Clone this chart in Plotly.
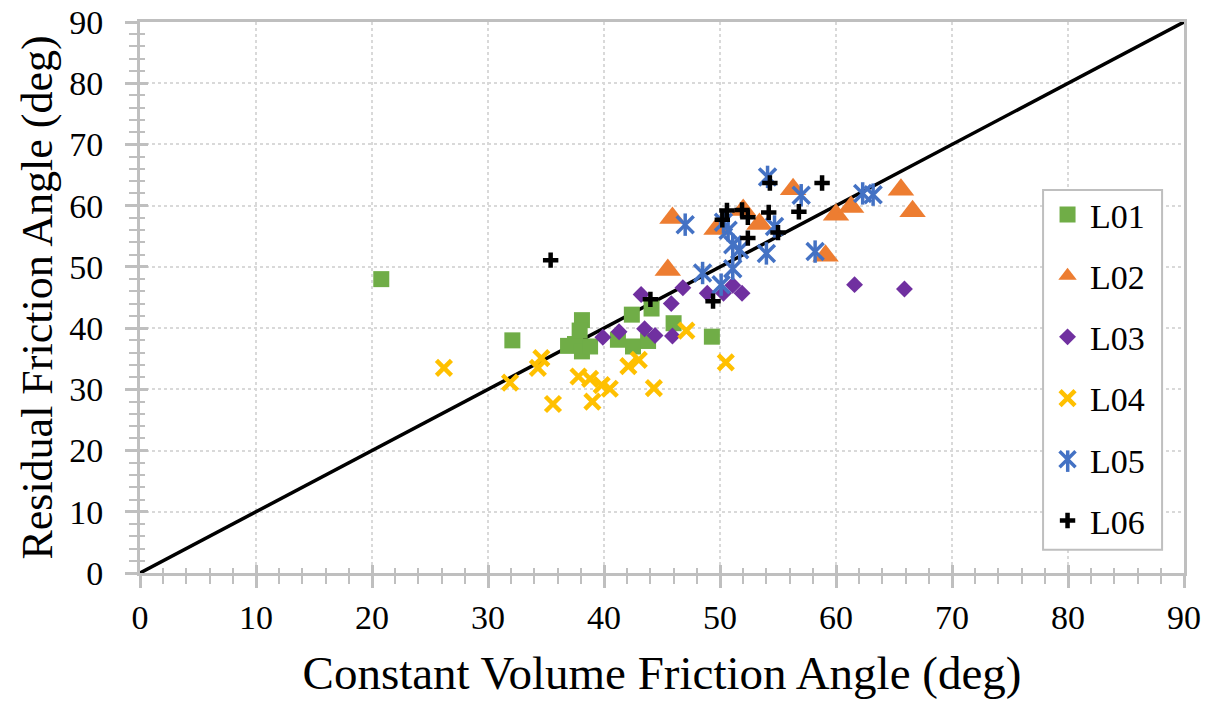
import plotly.graph_objects as go

# Constant volume (x) vs residual (y) friction angles, degrees
l01_cv = [20.8, 32.1, 36.9, 37.5, 38.1, 37.9, 38.1, 38.8, 41.2, 42.4, 42.5, 44.1, 43.8, 46.0, 49.3]
l01_res = [48.0, 38.0, 37.1, 37.4, 41.3, 39.6, 36.2, 37.0, 38.1, 42.2, 37.0, 43.2, 37.9, 40.8, 38.6]

l02_cv = [45.9, 45.5, 49.7, 52.0, 53.4, 56.3, 59.1, 60.0, 61.3, 65.6, 66.6]
l02_res = [58.0, 49.5, 56.2, 59.3, 57.0, 62.7, 51.8, 58.5, 59.8, 62.6, 59.1]

l03_cv = [39.9, 41.3, 43.2, 43.5, 44.4, 45.8, 45.9, 46.8, 48.9, 50.3, 51.1, 51.9, 61.6, 65.9]
l03_res = [38.5, 39.4, 45.5, 39.9, 38.8, 44.0, 38.7, 46.6, 45.7, 45.7, 47.0, 45.7, 47.1, 46.4]

l04_cv = [26.2, 31.9, 34.3, 34.6, 35.6, 37.8, 38.8, 39.0, 39.8, 40.5, 42.1, 43.0, 44.3, 47.1, 50.5]
l04_res = [33.5, 31.1, 33.5, 35.1, 27.6, 32.1, 31.7, 28.0, 30.7, 30.1, 33.8, 34.8, 30.2, 39.6, 34.4]

l05_cv = [47.0, 54.1, 57.0, 50.3, 50.7, 51.1, 51.7, 54.0, 54.7, 48.5, 50.1, 51.1, 58.2, 62.3, 63.2]
l05_res = [56.9, 64.7, 61.7, 57.3, 56.0, 53.6, 52.8, 52.2, 56.6, 49.0, 47.1, 49.7, 52.5, 62.0, 61.8]

l06_cv = [35.4, 44.0, 49.4, 50.2, 50.6, 51.9, 52.4, 54.2, 54.3, 56.8, 55.0, 52.4, 58.8]
l06_res = [51.1, 44.7, 44.4, 57.7, 59.2, 59.3, 58.1, 58.9, 63.7, 59.0, 55.6, 54.7, 63.7]

one_to_one = [0, 90]

FONT = "'Liberation Serif', Tinos, 'Times New Roman', Times, serif"
AXIS_GRAY = "#bfbfbf"
BLUE = "#4472C4"

fig = go.Figure()

fig.add_trace(go.Scatter(
    x=one_to_one, y=one_to_one, mode="lines", showlegend=False,
    line=dict(color="black", width=3.5), hoverinfo="skip"))

fig.add_trace(go.Scatter(
    x=l01_cv, y=l01_res, mode="markers", name="L01", legendgroup="L01",
    marker=dict(symbol="square", size=16, color="#70AD47")))

fig.add_trace(go.Scatter(
    x=l02_cv, y=l02_res, mode="markers", name="L02", legendgroup="L02",
    marker=dict(symbol="triangle-up", size=23, color="#ED7D31")))

fig.add_trace(go.Scatter(
    x=l03_cv, y=l03_res, mode="markers", name="L03", legendgroup="L03",
    marker=dict(symbol="diamond", size=13, color="#7030A0")))

fig.add_trace(go.Scatter(
    x=l04_cv, y=l04_res, mode="markers", name="L04", legendgroup="L04",
    marker=dict(symbol="x-thin-open", size=15, color="#FFC000",
                line=dict(width=4.5, color="#FFC000"))))

# six-armed star: an x plus a vertical bar
fig.add_trace(go.Scatter(
    x=l05_cv, y=l05_res, mode="markers", name="L05", legendgroup="L05",
    marker=dict(symbol="x-thin-open", size=17, color=BLUE,
                line=dict(width=3.5, color=BLUE))))
fig.add_trace(go.Scatter(
    x=l05_cv, y=l05_res, mode="markers", name="L05 bar", legendgroup="L05",
    showlegend=False,
    marker=dict(symbol="line-ns-open", size=16, color=BLUE,
                line=dict(width=3.5, color=BLUE))))

fig.add_trace(go.Scatter(
    x=l06_cv, y=l06_res, mode="markers", name="L06", legendgroup="L06",
    marker=dict(symbol="cross-thin-open", size=11, color="black",
                line=dict(width=4.5, color="black"))))

axis_common = dict(
    range=[0, 90], dtick=10, tick0=0, automargin=False,
    showline=True, linecolor=AXIS_GRAY, linewidth=2.5, mirror=True,
    ticks="outside", ticklen=12, tickwidth=2.5, tickcolor=AXIS_GRAY,
    minor=dict(dtick=2, ticks="outside", ticklen=8, tickwidth=2, tickcolor=AXIS_GRAY,
               showgrid=False),
    showgrid=True, gridcolor="#d9d9d9", griddash="dot", gridwidth=2,
    zeroline=False,
    tickfont=dict(family=FONT, size=34, color="black"),
)

# legend frame (paper coordinates)
LEG_X0, LEG_X1 = 0.865, 0.979
LEG_Y0, LEG_Y1 = 0.042, 0.695

fig.update_layout(
    width=1208, height=703,
    margin=dict(l=140, r=24, t=22, b=130),
    paper_bgcolor="white", plot_bgcolor="white",
    font=dict(family=FONT),
    xaxis=dict(axis_common,
               title=dict(text="Constant Volume Friction Angle (deg)", standoff=22,
                          font=dict(family=FONT, size=47, color="black"))),
    yaxis=dict(axis_common, ticksuffix="\u00a0\u2009",
               title=dict(text="Residual Friction Angle (deg)", standoff=3,
                          font=dict(family=FONT, size=44, color="black"))),
    # inner halves of the crossing tick marks
    xaxis2=dict(range=[0, 90], dtick=10, overlaying="x", side="bottom", matches="x",
                showticklabels=False, showgrid=False, showline=False, zeroline=False,
                ticks="inside", ticklen=8, tickwidth=2.5, tickcolor=AXIS_GRAY,
                minor=dict(dtick=2, ticks="inside", ticklen=5, tickwidth=2,
                           tickcolor=AXIS_GRAY, showgrid=False)),
    yaxis2=dict(range=[0, 90], dtick=10, overlaying="y", side="left", matches="y",
                showticklabels=False, showgrid=False, showline=False, zeroline=False,
                ticks="inside", ticklen=8, tickwidth=2.5, tickcolor=AXIS_GRAY,
                minor=dict(dtick=2, ticks="inside", ticklen=5, tickwidth=2,
                           tickcolor=AXIS_GRAY, showgrid=False)),
    legend=dict(
        x=0.8669, y=0.7026, xanchor="left", yanchor="top",
        bgcolor="rgba(0,0,0,0)", borderwidth=0,
        font=dict(family=FONT, size=34, color="black"),
        traceorder="grouped", tracegroupgap=14, itemwidth=35,
    ),
    showlegend=True,
    shapes=[
        dict(type="rect", xref="paper", yref="paper",
             x0=LEG_X0, x1=LEG_X1, y0=LEG_Y0, y1=LEG_Y1,
             fillcolor="white", line=dict(color=AXIS_GRAY, width=2), layer="above"),
        # vertical arm of the L05 legend glyph
        dict(type="line", xref="paper", yref="paper",
             x0=0.8886, x1=0.8886, y0=0.1835, y1=0.2225,
             line=dict(color=BLUE, width=3.5), layer="above"),
    ],
)

# placeholder trace that activates the overlay axes for the inner tick marks
fig.add_trace(go.Scatter(x=[None], y=[None], xaxis="x2", yaxis="y2",
                         showlegend=False, hoverinfo="skip"))

fig.write_html("out.html")
